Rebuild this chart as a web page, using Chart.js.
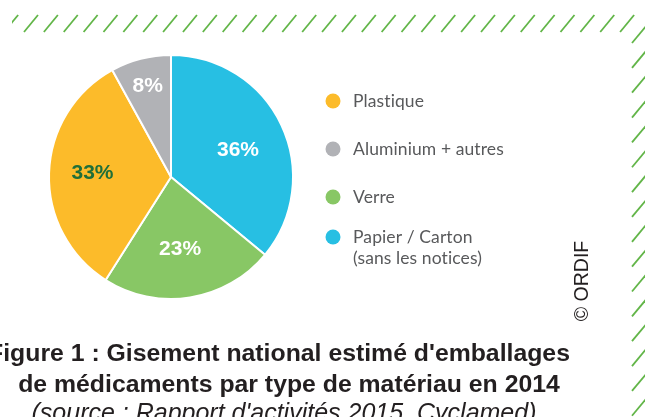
<!DOCTYPE html>
<html>
<head>
<meta charset="utf-8">
<script src="https://cdn.jsdelivr.net/npm/chart.js@4/dist/chart.umd.min.js"></script>
<style>
html,body{margin:0;padding:0;background:#fff;}
#wrap{position:relative;width:645px;height:417px;overflow:hidden;}
canvas{display:block;}
</style>
</head>
<body>
<div id="wrap"><canvas id="c" width="645" height="417"></canvas></div>
<script>
// Data (drawing order: clockwise from 12 o'clock)
const categories = ["Papier / Carton", "Verre", "Plastique", "Aluminium + autres"];
const values = [36, 23, 33, 8];
const valueLabels = ["36%", "23%", "33%", "8%"];
const sliceColors = ["#27bfe3", "#88c765", "#fcbb2a", "#b1b2b6"];
// Legend (display order)
const legendLabels = [["Plastique"], ["Aluminium + autres"], ["Verre"], ["Papier / Carton", "(sans les notices)"]];
const legendColors = ["#fcbb2a", "#b1b2b6", "#88c765", "#27bfe3"];
const titleLines = ["Figure 1 : Gisement national estimé d'emballages", "de médicaments par type de matériau en 2014"];
const sourceLine = "(source : Rapport d'activités 2015, Cyclamed)";
const credit = "© ORDIF";

const decorPlugin = {
  id: 'decor',
  beforeDraw(chart) {
    const ctx = chart.ctx;
    ctx.save();
    ctx.fillStyle = '#ffffff';
    ctx.fillRect(0, 0, chart.width, chart.height);
    // green hatch border
    ctx.strokeStyle = '#62b548';
    ctx.lineWidth = 1.8;
    ctx.lineCap = 'butt';
    ctx.beginPath();
    ctx.rect(12, 0, 633, 417);
    ctx.clip();
    for (let k = -1; k < 31; k++) {
      const x = 24 + k * 19.87;
      ctx.beginPath();
      ctx.moveTo(x, 32);
      ctx.lineTo(x + 14, 15);
      ctx.stroke();
    }
    for (let k = 0; k < 17; k++) {
      const y = 43 + k * 24.85;
      ctx.beginPath();
      ctx.moveTo(632, y);
      ctx.lineTo(647, y - 18);
      ctx.stroke();
    }
    ctx.restore();
  },
  afterDraw(chart, args, opts) {
    const ctx = chart.ctx;
    ctx.save();
    // slice labels
    const meta = chart.getDatasetMeta(0);
    ctx.font = 'bold 21px "Liberation Sans", Arial, sans-serif';
    ctx.textAlign = 'center';
    ctx.textBaseline = 'middle';
    meta.data.forEach((arc, i) => {
      const p = arc.getProps(['x', 'y', 'startAngle', 'endAngle', 'outerRadius']);
      const mid = (p.startAngle + p.endAngle) / 2;
      const r = p.outerRadius * opts.labelRadius[i];
      ctx.fillStyle = opts.labelColors[i];
      ctx.fillText(valueLabels[i], p.x + Math.cos(mid) * r + opts.labelShift[i][0], p.y + Math.sin(mid) * r + opts.labelShift[i][1]);
    });
    // legend
    ctx.textAlign = 'left';
    ctx.textBaseline = 'middle';
    ctx.font = '17.5px Lato, "Open Sans", sans-serif';
    if ('letterSpacing' in ctx) ctx.letterSpacing = '0.1px';
    const ys = [101, 149, 197, 237];
    legendLabels.forEach((lines, i) => {
      ctx.fillStyle = legendColors[i];
      ctx.beginPath();
      ctx.arc(333, ys[i], 7.5, 0, Math.PI * 2);
      ctx.fill();
      ctx.fillStyle = '#58595b';
      lines.forEach((t, j) => ctx.fillText(t, 353, ys[i] + j * 21));
    });
    if ('letterSpacing' in ctx) ctx.letterSpacing = '0px';
    // title
    ctx.fillStyle = '#231f20';
    ctx.textAlign = 'center';
    ctx.textBaseline = 'alphabetic';
    ctx.font = 'bold 24.8px "Liberation Sans", Arial, sans-serif';
    ctx.fillText(titleLines[0], 279, 361);
    ctx.fillText(titleLines[1], 289, 392);
    ctx.font = 'italic 25px "Liberation Sans", Arial, sans-serif';
    ctx.fillText(sourceLine, 284, 421);
    // credit
    ctx.translate(583, 281);
    ctx.rotate(-Math.PI / 2);
    ctx.font = '19.5px "Liberation Sans", Arial, sans-serif';
    ctx.textBaseline = 'middle';
    ctx.fillText(credit, 0, 0);
    ctx.restore();
  }
};

new Chart(document.getElementById('c'), {
  type: 'pie',
  data: {
    labels: categories,
    datasets: [{
      data: values,
      backgroundColor: sliceColors,
      borderColor: '#ffffff',
      borderWidth: 2
    }]
  },
  options: {
    responsive: false,
    animation: false,
    layout: { padding: { left: 48, top: 54, right: 351, bottom: 117 } },
    plugins: {
      legend: { display: false },
      tooltip: { enabled: false },
      title: { display: false },
      decor: {
        labelRadius: [0.58, 0.58, 0.66, 0.77],
        labelShift: [[3, 3], [-2, 2], [2, -1], [0, 0]],
        labelColors: ['#ffffff', '#ffffff', '#1f6f39', '#ffffff']
      }
    }
  },
  plugins: [decorPlugin]
});
</script>
</body>
</html>
